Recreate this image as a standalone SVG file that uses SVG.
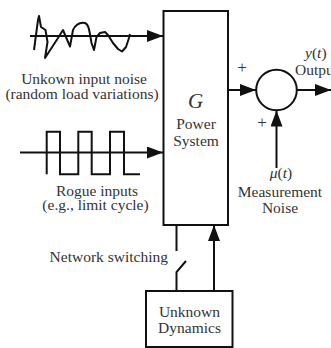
<svg xmlns="http://www.w3.org/2000/svg" width="331" height="348" viewBox="0 0 331 348">
<defs>
<style>
.t{font-family:"Liberation Serif","Times New Roman",serif;font-size:15.5px;fill:#333;text-anchor:middle}
.ln{stroke:#111;stroke-width:2;fill:none}
.box{stroke:#111;stroke-width:2;fill:#fff}
</style>
<marker id="ah" markerWidth="16" markerHeight="12" refX="16" refY="6" orient="auto" markerUnits="userSpaceOnUse">
<path d="M0,0 L16,6 L0,12 Z" fill="#111"/>
</marker>
</defs>
<rect width="331" height="348" fill="#fff"/>
<g id="connectors">
<line class="ln" x1="30" y1="36" x2="163" y2="36" marker-end="url(#ah)"/>
<line class="ln" x1="20" y1="152.5" x2="163" y2="152.5" marker-end="url(#ah)"/>
<line class="ln" x1="228" y1="90" x2="256" y2="90" marker-end="url(#ah)"/>
<line class="ln" x1="297" y1="90" x2="331" y2="90" marker-end="url(#ah)"/>
<line class="ln" x1="276.5" y1="168" x2="276.5" y2="110.5" marker-end="url(#ah)"/>
<line class="ln" x1="214" y1="291" x2="214" y2="225" marker-end="url(#ah)"/>
<polyline class="ln" points="176.5,225 176.5,251"/>
<polyline class="ln" points="176.5,291 176.5,272 186,261"/>
</g>
<g id="noise-signal">
<path class="ln" stroke-width="1.8" stroke-linejoin="round" d="M34,50 L38,20 L39,16 L41,27 L45.5,30 L47.5,42 L45,58 L58,38 L63,30 L70,46.5 L73,30 C76,24 80,22 85,23 C88,24 89,27 91.5,43 L94,50 L96.5,37 L100,33 L105,32 L108,35 L113,43 L118,49 L122,51.5 L126,47 L129,38 L130,34"/>
</g>
<g id="rogue-signal">
<polyline class="ln" stroke-width="1.8" points="46.7,174.3 46.7,131.7 60,131.7 60,174.3 78.3,174.3 78.3,131.7 91.7,131.7 91.7,174.3 110,174.3 110,131.7 124,131.7 124,174.3 140,174.3"/>
</g>
<g id="labels-inputs">
<text class="t" x="84" y="84">Unkown input noise</text>
<text class="t" x="82" y="98.5">(random load variations)</text>
<text class="t" x="97" y="196">Rogue inputs</text>
<text class="t" x="95.5" y="210">(e.g., limit cycle)</text>
</g>
<g id="power-system">
<rect class="box" x="163.5" y="11" width="64.5" height="214"/>
<text class="t" x="195.5" y="108" style="font-size:21px;font-style:italic">G</text>
<text class="t" x="196" y="129">Power</text>
<text class="t" x="196" y="146">System</text>
</g>
<g id="summer">
<circle class="box" cx="276.5" cy="90" r="20.3"/>
<text class="t" x="242" y="73" style="font-size:17px">+</text>
<text class="t" x="262" y="128" style="font-size:17px">+</text>
</g>
<g id="output-label">
<text class="t" x="305" y="58" style="text-anchor:start"><tspan font-style="italic">y</tspan>(<tspan font-style="italic">t</tspan>)</text>
<text class="t" x="295" y="75" style="text-anchor:start">Output</text>
</g>
<g id="noise-label">
<text class="t" x="281" y="178"><tspan font-style="italic">μ</tspan>(<tspan font-style="italic">t</tspan>)</text>
<text class="t" x="280" y="196.5">Measurement</text>
<text class="t" x="280" y="213">Noise</text>
</g>
<g id="switch-label">
<text class="t" x="168" y="262" style="text-anchor:end">Network switching</text>
</g>
<g id="unknown-dynamics">
<rect class="box" x="146" y="291" width="86.5" height="56"/>
<text class="t" x="189.5" y="317">Unknown</text>
<text class="t" x="189.5" y="333">Dynamics</text>
</g>
</svg>
